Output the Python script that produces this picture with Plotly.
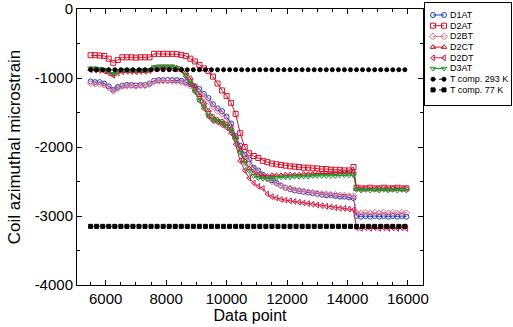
import plotly.graph_objects as go

# x positions of data points
x_pre = [5500, 5650, 5800, 5950, 6100, 6250, 6400, 6550, 6700, 6850, 7000, 7150, 7300, 7450,
         7600, 7750, 7900, 8050, 8200, 8350, 8500, 8650, 8800, 8950, 9100, 9250, 9400, 9550,
         9700, 9850, 10000, 10150, 10300, 10450, 10600, 10750, 10900, 11050, 11200, 11350,
         11500, 11650, 11800, 11950, 12100, 12250, 12400, 12550, 12700, 12850, 13000, 13150,
         13300, 13450, 13600, 13750, 13900, 14050, 14200]
x_post = [14300, 14450, 14600, 14750, 14900, 15050, 15200, 15350, 15500, 15650, 15800, 15950]
x_data = x_pre + x_post

d1at = [-1050, -1060, -1060, -1080, -1120, -1170, -1130, -1110, -1100, -1100, -1110, -1100, -1100, -1080,
        -1040, -1030, -1030, -1030, -1030, -1030, -1040, -1060, -1090, -1120, -1160, -1230, -1290, -1380,
        -1440, -1480, -1560, -1660, -1840, -1980, -2110, -2180, -2300, -2340, -2400, -2450,
        -2480, -2520, -2560, -2590, -2610, -2630, -2640, -2650, -2660, -2670, -2680, -2690,
        -2700, -2700, -2710, -2720, -2720, -2730, -2740,
        -3000, -3010, -3000, -3010, -3000, -3010, -3000, -3010, -3000, -3010, -3000, -3010]

d2at = [-670, -670, -675, -680, -720, -780, -740, -700, -700, -700, -705, -700, -700, -700,
        -650, -650, -650, -650, -650, -655, -665, -680, -720, -760, -810, -860, -900, -980,
        -1080, -1180, -1260, -1360, -1520, -1800, -2000, -2090, -2130, -2160, -2200, -2220,
        -2240, -2250, -2260, -2270, -2280, -2285, -2290, -2300, -2300, -2310, -2310, -2320,
        -2320, -2330, -2330, -2330, -2340, -2340, -2290,
        -2590, -2600, -2600, -2590, -2600, -2600, -2590, -2600, -2600, -2590, -2600, -2600]

d2bt = [-1080, -1085, -1090, -1100, -1140, -1190, -1150, -1120, -1115, -1110, -1120, -1110, -1110, -1090,
        -1050, -1045, -1040, -1040, -1045, -1050, -1060, -1080, -1110, -1150, -1200, -1270, -1340, -1420,
        -1480, -1520, -1600, -1700, -1880, -2020, -2140, -2220, -2320, -2360, -2420, -2460,
        -2500, -2530, -2560, -2590, -2600, -2620, -2630, -2640, -2650, -2660, -2670, -2680,
        -2680, -2690, -2690, -2700, -2700, -2710, -2710,
        -2950, -2960, -2950, -2960, -2950, -2960, -2950, -2960, -2950, -2960, -2950, -2960]

d2ct = [-870, -870, -880, -890, -910, -950, -910, -900, -900, -900, -905, -900, -900, -890,
        -850, -845, -840, -840, -840, -850, -870, -920, -1000, -1120, -1250, -1360, -1470, -1560,
        -1600, -1630, -1670, -1740, -1860, -2050, -2200, -2310, -2380, -2410, -2420, -2420,
        -2410, -2410, -2410, -2400, -2400, -2400, -2400, -2390, -2390, -2390, -2390, -2380,
        -2380, -2380, -2380, -2370, -2370, -2370, -2360,
        -2610, -2610, -2600, -2610, -2610, -2600, -2610, -2610, -2600, -2610, -2610, -2600]

d2dt = [-880, -885, -890, -900, -930, -960, -930, -910, -905, -905, -910, -905, -905, -895,
        -860, -855, -855, -855, -860, -870, -890, -980, -1080, -1200, -1330, -1440, -1560, -1620,
        -1640, -1680, -1720, -1800, -1960, -2200, -2340, -2450, -2520, -2570, -2600, -2680,
        -2720, -2740, -2760, -2770, -2780, -2790, -2800, -2810, -2820, -2830, -2840, -2850,
        -2860, -2870, -2880, -2890, -2890, -2900, -2910,
        -3170, -3180, -3170, -3180, -3170, -3180, -3170, -3180, -3170, -3180, -3170, -3180]

d3at = [-860, -860, -870, -880, -900, -940, -900, -890, -890, -890, -895, -890, -890, -880,
        -840, -830, -830, -830, -830, -850, -880, -960, -1060, -1190, -1320, -1420, -1540, -1600,
        -1620, -1650, -1690, -1760, -1880, -2080, -2230, -2350, -2420, -2450, -2460, -2460,
        -2450, -2450, -2440, -2440, -2440, -2430, -2430, -2430, -2430, -2420, -2420, -2420,
        -2420, -2420, -2420, -2410, -2410, -2410, -2410,
        -2620, -2630, -2620, -2630, -2620, -2630, -2620, -2630, -2620, -2630, -2620, -2630]

x_tc = [5500, 5700, 5900, 6100, 6300, 6500, 6700, 6900, 7100, 7300, 7500, 7700, 7900, 8100,
        8300, 8500, 8700, 8900, 9100, 9300, 9500, 9700, 9900, 10100, 10300, 10500, 10700,
        10900, 11100, 11300, 11500, 11700, 11900, 12100, 12300, 12500, 12700, 12900, 13100,
        13300, 13500, 13700, 13900, 14100, 14300, 14500, 14700, 14900, 15100, 15300, 15500,
        15700, 15900]
tcomp_293 = [-880] * len(x_tc)
tcomp_77 = [-3150] * len(x_tc)

x_ticks = [6000, 8000, 10000, 12000, 14000, 16000]
x_ticktext = ["6000", "8000", "10000", "12000", "14000", "16000"]
y_ticks = [0, -1000, -2000, -3000, -4000]
y_ticktext = ["0", "-1000", "-2000", "-3000", "-4000"]

FONT = "Liberation Sans, Arial, Helvetica, sans-serif"

# (name, values, x, color, symbol, marker size, line dash)
series = [
    ("D1AT", d1at, x_data, "#1a3fc8", "circle-open", 5, "solid"),
    ("D2AT", d2at, x_data, "#d8102a", "square-open", 5, "solid"),
    ("D2BT", d2bt, x_data, "#ec6c86", "diamond-open", 5, "solid"),
    ("D2CT", d2ct, x_data, "#c8142c", "triangle-up-open", 5, "solid"),
    ("D2DT", d2dt, x_data, "#d41c44", "triangle-left-open", 5, "solid"),
    ("D3AT", d3at, x_data, "#1a9a30", "triangle-down-open", 5, "solid"),
    ("T comp. 293 K", tcomp_293, x_tc, "black", "circle", 4, "dot"),
    ("T comp. 77 K", tcomp_77, x_tc, "black", "square", 4, "dot"),
]

fig = go.Figure()
for name, vals, xs, col, sym, ms, dash in series:
    fig.add_trace(go.Scatter(
        x=xs, y=vals, name=name, mode="lines+markers", showlegend=False,
        line=dict(color=col, width=1, dash=dash),
        marker=dict(symbol=sym, size=ms, color=col, line=dict(width=1, color=col)),
        xaxis="x", yaxis="y",
    ))

# compact legend drawn on a secondary (hidden) axis pair
W, H = 513, 327
annotations = []
for i, (name, vals, xs, col, sym, ms, dash) in enumerate(series):
    yy = 12 + i * 10.7
    fig.add_trace(go.Scatter(
        x=[8, 19], y=[yy, yy], mode="lines+markers", showlegend=False, hoverinfo="skip",
        line=dict(color=col, width=1, dash=dash),
        marker=dict(symbol=sym, size=ms, color=col, line=dict(width=1, color=col)),
        xaxis="x2", yaxis="y2",
    ))
    annotations.append(dict(
        x=23, y=yy, xref="x2", yref="y2", text=name, showarrow=False,
        xanchor="left", yanchor="middle", font=dict(size=9, family=FONT, color="black"),
    ))

axis_common = dict(
    showline=True, linecolor="black", linewidth=1, mirror="ticks",
    ticks="inside", ticklen=5, tickcolor="black", showgrid=False, zeroline=False,
    tickfont=dict(family=FONT, size=15, color="black"), automargin=False,
)

fig.update_layout(
    width=W, height=H,
    margin=dict(l=0, r=0, t=0, b=0, autoexpand=False),
    paper_bgcolor="white", plot_bgcolor="white",
    font=dict(family=FONT, color="black"),
    showlegend=False,
    xaxis=dict(domain=[77 / W, 423 / W], range=[5050, 16500],
               tickvals=x_ticks, ticktext=x_ticktext,
               minor=dict(ticks="inside", ticklen=3, dtick=500, tickcolor="black"),
               title=dict(text="Data point", font=dict(size=16), standoff=1),
               anchor="y", **axis_common),
    yaxis=dict(domain=[(H - 285) / H, (H - 9) / H], range=[-4000, 0],
               tickvals=y_ticks, ticktext=y_ticktext,
               minor=dict(ticks="inside", ticklen=3, dtick=500, tickcolor="black"),
               title=dict(text="Coil azimuthal microstrain", font=dict(size=17), standoff=9),
               anchor="x", **axis_common),
    xaxis2=dict(domain=[425 / W, 511 / W], range=[0, 86], anchor="y2", automargin=False,
                showline=True, mirror=True, linecolor="black", linewidth=1,
                showticklabels=False, ticks="", showgrid=False, zeroline=False, fixedrange=True),
    yaxis2=dict(domain=[(H - 105) / H, (H - 3) / H], range=[102, 0], anchor="x2", automargin=False,
                showline=True, mirror=True, linecolor="black", linewidth=1,
                showticklabels=False, ticks="", showgrid=False, zeroline=False, fixedrange=True),
    annotations=annotations,
)

fig.write_html("out.html")
